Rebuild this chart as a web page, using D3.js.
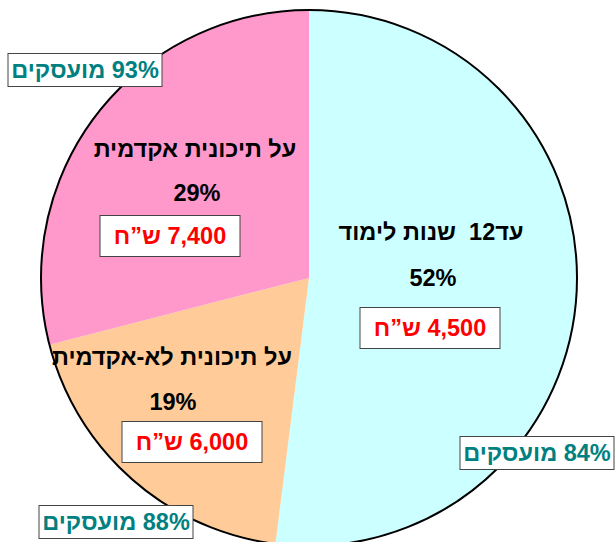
<!DOCTYPE html>
<html>
<head>
<meta charset="utf-8">
<script src="https://cdn.jsdelivr.net/npm/d3@7"></script>
<style>
  body { margin: 0; background: #fff; }
  svg { display: block; }
  text { font-family: "Liberation Sans", Arial, sans-serif; font-weight: bold; }
</style>
</head>
<body>
<div id="chart"></div>
<script>
// data
const categories = ["עד12\u00A0 שנות לימוד", "על תיכונית לא-אקדמית", "על תיכונית אקדמית"];
const shares = [52, 19, 29];
const salaries = [4500, 6000, 7400];
const employed = [84, 88, 93];

const colors = ["#CCFFFF", "#FFCC99", "#FF99CC"];

const width = 615, height = 542;
const cx = 309, cy = 278, radius = 268;

// label layout (offsets from pie centre)
const titlePos = [[122, -46], [-137, 79], [-114, -129]];
const pctPos   = [[124, 0],   [-136, 124], [-112, -85]];
const boxPos   = [[121, 50],  [-117, 164], [-139, -42]];
const empPos   = [[228, 175], [-193, 244], [-224, -208]];

const svg = d3.select("#chart").append("svg")
    .attr("width", width)
    .attr("height", height);

const g = svg.append("g").attr("transform", `translate(${cx},${cy})`);

const pie = d3.pie().sort(null).value(d => d);
const arc = d3.arc().innerRadius(0).outerRadius(radius);

g.selectAll("path.slice")
    .data(pie(shares))
    .join("path")
    .attr("class", "slice")
    .attr("d", arc)
    .attr("fill", (d, i) => colors[i]);

// outline
g.append("circle")
    .attr("r", radius)
    .attr("fill", "none")
    .attr("stroke", "#000")
    .attr("stroke-width", 2);

const fmt = d3.format(",");
const fs = 23.5;

categories.forEach((c, i) => {
    g.append("text")
        .attr("x", titlePos[i][0]).attr("y", titlePos[i][1] + fs * 0.36)
        .attr("text-anchor", "middle").attr("direction", "rtl")
        .attr("font-size", fs).attr("fill", "#000")
        .text(c);

    g.append("text")
        .attr("x", pctPos[i][0]).attr("y", pctPos[i][1] + fs * 0.36)
        .attr("text-anchor", "middle").attr("direction", "rtl")
        .attr("font-size", fs).attr("fill", "#000")
        .text(shares[i] + "%");

    // salary box
    g.append("rect")
        .attr("x", boxPos[i][0] - 70).attr("y", boxPos[i][1] - 20.5)
        .attr("width", 140).attr("height", 41)
        .attr("fill", "#fff").attr("stroke", "#444").attr("stroke-width", 1);
    g.append("text")
        .attr("x", boxPos[i][0]).attr("y", boxPos[i][1] + fs * 0.36)
        .attr("text-anchor", "middle").attr("direction", "rtl")
        .attr("font-size", fs).attr("fill", "#FF0000")
        .text(fmt(salaries[i]) + " ש”ח");

    // employment box
    g.append("rect")
        .attr("x", empPos[i][0] - 77).attr("y", empPos[i][1] - 16.5)
        .attr("width", 154).attr("height", 33)
        .attr("fill", "#fff").attr("stroke", "#444").attr("stroke-width", 1);
    g.append("text")
        .attr("x", empPos[i][0]).attr("y", empPos[i][1] + fs * 0.36)
        .attr("text-anchor", "middle").attr("direction", "rtl")
        .attr("font-size", fs).attr("fill", "#008080")
        .text(employed[i] + "% מועסקים");
});
</script>
</body>
</html>
